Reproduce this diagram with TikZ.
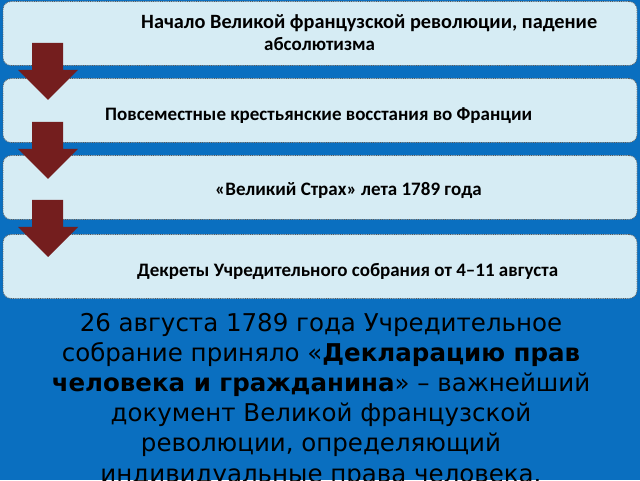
\documentclass[tikz,border=0pt]{standalone}
\usepackage{fontspec}
\setmainfont{DejaVu Sans}
\newfontfamily\stagefont{Carlito}

\definecolor{bgblue}{RGB}{10,111,192}
\definecolor{stagefill}{RGB}{214,236,244}
\definecolor{arrowred}{RGB}{116,30,30}

\begin{document}
\begin{tikzpicture}[x=1pt,y=1pt,
    stage/.style={draw=black!65, densely dotted, line width=0.8pt, fill=stagefill,
      rounded corners=8pt, minimum width=634pt, minimum height=64pt, inner sep=0pt},
    stagetext/.style={font=\stagefont\bfseries\fontsize{19}{22}\selectfont, inner sep=0pt, anchor=base west},
    downarrow/.style={fill=arrowred}]
\clip (0,0) rectangle (640,480);
\fill[bgblue] (0,0) rectangle (640,480);

% stages
\node[stage] (s1) at (320,446.5) {};
\node[stage] (s2) at (320,369.5) {};
\node[stage] (s3) at (320,292.5) {};
\node[stage] (s4) at (320,213.5) {};

\node[stagetext, font=\stagefont\bfseries\fontsize{20.3}{22}\selectfont] (t1a) at (141,451) {Начало Великой французской революции, падение};
\node[stagetext] (t1b) at (264,429) {абсолютизма};
\node[stagetext] (t2) at (105,359) {Повсеместные крестьянские восстания во Франции};
\node[stagetext] (t3) at (215,284) {«Великий Страх» лета 1789 года};
\node[stagetext] (t4) at (137,204) {Декреты Учредительного собрания от 4–11 августа};

% arrows between the stages
\foreach \t in {437,358,280}
  \fill[downarrow] (32,\t) -- (63,\t) -- (63,\t-27) -- (78,\t-27) -- (48,\t-57)
    -- (18,\t-27) -- (32,\t-27) -- cycle;

\node[font=\fontsize{24.5}{30.2}\selectfont, align=center, anchor=base, inner sep=0pt] (decl) at (321,-2)
  {26 августа 1789 года Учредительное\\
   собрание приняло «\textbf{Декларацию прав}\\
   \textbf{человека и гражданина}» – важнейший\\
   документ Великой французской\\
   революции, определяющий\\
   индивидуальные права человека.};
\end{tikzpicture}
\end{document}
